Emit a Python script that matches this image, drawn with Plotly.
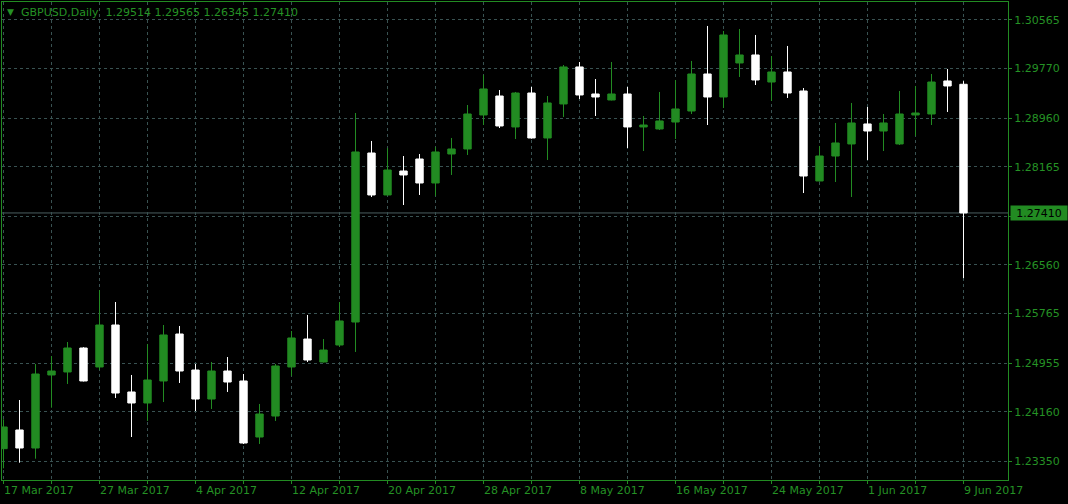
import plotly.graph_objects as go

# ---------------- data ----------------
dates = ["2017-03-17", "2017-03-20", "2017-03-21", "2017-03-22", "2017-03-23", "2017-03-24",
         "2017-03-27", "2017-03-28", "2017-03-29", "2017-03-30", "2017-03-31",
         "2017-04-03", "2017-04-04", "2017-04-05", "2017-04-06", "2017-04-07",
         "2017-04-10", "2017-04-11", "2017-04-12", "2017-04-13", "2017-04-14",
         "2017-04-17", "2017-04-18", "2017-04-19", "2017-04-20", "2017-04-21",
         "2017-04-24", "2017-04-25", "2017-04-26", "2017-04-27", "2017-04-28",
         "2017-05-01", "2017-05-02", "2017-05-03", "2017-05-04", "2017-05-05",
         "2017-05-08", "2017-05-09", "2017-05-10", "2017-05-11", "2017-05-12",
         "2017-05-15", "2017-05-16", "2017-05-17", "2017-05-18", "2017-05-19",
         "2017-05-22", "2017-05-23", "2017-05-24", "2017-05-25", "2017-05-26",
         "2017-05-29", "2017-05-30", "2017-05-31", "2017-06-01", "2017-06-02",
         "2017-06-05", "2017-06-06", "2017-06-07", "2017-06-08", "2017-06-09"]

opens = [1.23556, 1.23862, 1.23567, 1.24761, 1.24810, 1.25202, 1.24892, 1.25578, 1.24483, 1.24303,
         1.24663, 1.25431, 1.24842, 1.24368, 1.24826, 1.24663, 1.23747, 1.24090, 1.24892, 1.25349,
         1.24973, 1.25251, 1.25627, 1.28390, 1.27704, 1.28096, 1.28292, 1.27900, 1.28374, 1.28456,
         1.29012, 1.29322, 1.28816, 1.29371, 1.28636, 1.29192, 1.29797, 1.29355, 1.29257, 1.29355,
         1.28816, 1.28783, 1.28897, 1.29077, 1.29682, 1.29306, 1.29862, 1.29993, 1.29551, 1.29715,
         1.29404, 1.27933, 1.28341, 1.28538, 1.28865, 1.28750, 1.28538, 1.29012, 1.29028, 1.29568,
         1.29514]

highs = [1.24036, 1.24352, 1.24941, 1.25071, 1.25300, 1.25215, 1.26150, 1.25954, 1.24761, 1.25268,
         1.25578, 1.25562, 1.24941, 1.24973, 1.25055, 1.24777, 1.24287, 1.24941, 1.25480, 1.25742,
         1.25349, 1.25954, 1.29044, 1.28587, 1.28472, 1.28341, 1.28374, 1.28489, 1.28636, 1.29175,
         1.29666, 1.29420, 1.29388, 1.29470, 1.29322, 1.29829, 1.29878, 1.29600, 1.29878, 1.29470,
         1.28995, 1.29388, 1.29584, 1.29895, 1.30467, 1.30385, 1.30418, 1.30320, 1.29976, 1.30140,
         1.29453, 1.28505, 1.28881, 1.29208, 1.29143, 1.29028, 1.29404, 1.29486, 1.29682, 1.29764,
         1.29565]

lows = [1.23235, 1.23327, 1.23392, 1.24226, 1.24614, 1.24655, 1.24842, 1.24385, 1.23747, 1.24009,
        1.24319, 1.24630, 1.24172, 1.24205, 1.24483, 1.23633, 1.23633, 1.24009, 1.24744, 1.24973,
        1.24965, 1.25219, 1.25137, 1.27671, 1.27695, 1.27540, 1.27704, 1.27687, 1.28031, 1.28358,
        1.28848, 1.28799, 1.28619, 1.28625, 1.28276, 1.28979, 1.29273, 1.28995, 1.29250, 1.28472,
        1.28423, 1.28766, 1.28619, 1.29028, 1.28848, 1.29126, 1.29633, 1.29502, 1.29241, 1.29290,
        1.27736, 1.27925, 1.27916, 1.27671, 1.28276, 1.28423, 1.28521, 1.28668, 1.28848, 1.29061,
        1.26345]

closes = [1.23911, 1.23567, 1.24777, 1.24826, 1.25202, 1.24663, 1.25578, 1.24466, 1.24303, 1.24679,
          1.25415, 1.24826, 1.24368, 1.24826, 1.24646, 1.23649, 1.24123, 1.24908, 1.25366, 1.25006,
          1.25169, 1.25644, 1.28407, 1.27704, 1.28112, 1.28031, 1.27900, 1.28407, 1.28456, 1.29028,
          1.29437, 1.28832, 1.29371, 1.28636, 1.29208, 1.29797, 1.29339, 1.29306, 1.29355, 1.28816,
          1.28848, 1.28914, 1.29110, 1.29682, 1.29306, 1.30320, 1.29993, 1.29584, 1.29715, 1.29371,
          1.28014, 1.28341, 1.28554, 1.28881, 1.28750, 1.28881, 1.29028, 1.29044, 1.29551, 1.29486,
          1.27410]

label_dates = ["2017-03-17", "2017-03-27", "2017-04-04", "2017-04-12", "2017-04-20", "2017-04-28",
               "2017-05-08", "2017-05-16", "2017-05-24", "2017-06-01", "2017-06-09"]
label_texts = ["17 Mar 2017", "27 Mar 2017", "4 Apr 2017", "12 Apr 2017", "20 Apr 2017", "28 Apr 2017",
               "8 May 2017", "16 May 2017", "24 May 2017", "1 Jun 2017", "9 Jun 2017"]
grid_dates = ["2017-03-17", "2017-03-22", "2017-03-27", "2017-03-30", "2017-04-04", "2017-04-07",
              "2017-04-12", "2017-04-17", "2017-04-20", "2017-04-25", "2017-04-28", "2017-05-03",
              "2017-05-08", "2017-05-11", "2017-05-16", "2017-05-19", "2017-05-24", "2017-05-29",
              "2017-06-01", "2017-06-06", "2017-06-09"]

price_ticks = [1.30565, 1.29770, 1.28960, 1.28165, 1.27360, 1.26560, 1.25765, 1.24955, 1.24160, 1.23350]
price_texts = ["1.30565", "1.29770", "1.28960", "1.28165", "", "1.26560", "1.25765", "1.24955", "1.24160", "1.23350"]

symbol = "GBPUSD,Daily"
last_price = 1.27410

# ---------------- styles ----------------
GREEN = "#228B22"
TEXT = "#259225"
GRID = "#395252"
FONT = "DejaVu Sans"

fig = go.Figure()
fig.add_trace(go.Candlestick(
    x=dates, open=opens, high=highs, low=lows, close=closes,
    increasing=dict(line=dict(color=GREEN, width=1), fillcolor=GREEN),
    decreasing=dict(line=dict(color="#ffffff", width=1), fillcolor="#ffffff"),
    whiskerwidth=0, showlegend=False, hoverinfo="skip",
))

fig.update_layout(
    width=1068, height=504,
    margin=dict(l=2, r=60, t=2, b=24),
    paper_bgcolor="#000000", plot_bgcolor="#000000",
    boxmode="overlay", boxgap=0.34,
    showlegend=False,
    font=dict(family=FONT, size=11, color=TEXT),
    xaxis=dict(
        type="category", categoryorder="array", categoryarray=dates,
        range=[-0.09375, 62.78125], rangeslider=dict(visible=False),
        tickmode="array", tickvals=grid_dates, ticktext=[""] * len(grid_dates),
        ticks="outside", ticklen=3, tickcolor=GREEN,
        showgrid=True, gridcolor=GRID, griddash="3px,3px", gridwidth=1,
        showline=True, linecolor=GREEN, linewidth=1, mirror=True,
        zeroline=False, fixedrange=True,
    ),
    yaxis=dict(
        side="right", range=[1.23044, 1.30859],
        tickmode="array", tickvals=price_ticks, ticktext=price_texts,
        ticks="outside", ticklen=3, tickcolor=GREEN,
        tickfont=dict(family=FONT, size=11, color=TEXT),
        showgrid=True, gridcolor=GRID, griddash="3px,3px", gridwidth=1,
        showline=True, linecolor=GREEN, linewidth=1, mirror=True,
        zeroline=False, fixedrange=True,
    ),
)

# current price line
fig.add_shape(type="line", xref="paper", x0=0, x1=1, yref="y", y0=last_price, y1=last_price,
              line=dict(color="#4a5e60", width=1), layer="below")

annotations = []
for d, t in zip(label_dates, label_texts):
    annotations.append(dict(x=d, xref="x", y=0, yref="paper", text=t, showarrow=False,
                            xanchor="left", yanchor="top", xshift=-2, yshift=-2,
                            font=dict(family=FONT, size=11, color=TEXT)))

# price label box
annotations.append(dict(x=1, xref="paper", y=last_price, yref="y", text=f"{last_price:.5f}",
                        showarrow=False, xanchor="left", yanchor="middle", xshift=2,
                        width=56, height=14, borderpad=0, bgcolor=GREEN, align="center",
                        font=dict(family=FONT, size=11, color="#000000")))

# title
annotations.append(dict(x=0, xref="paper", y=1, yref="paper", text="▼", showarrow=False,
                        xanchor="left", yanchor="top", xshift=3, yshift=-3,
                        font=dict(family=FONT, size=9, color=TEXT)))
title_text = symbol + "&nbsp;&nbsp;" + " ".join(f"{v:.5f}" for v in
                                                  [opens[-1], highs[-1], lows[-1], closes[-1]])
annotations.append(dict(x=0, xref="paper", y=1, yref="paper", text=title_text, showarrow=False,
                        xanchor="left", yanchor="top", xshift=17, yshift=-2,
                        font=dict(family=FONT, size=11, color=TEXT)))

fig.update_layout(annotations=annotations)

fig.write_html("out.html", config=dict(displayModeBar=False),
               post_script="document.body.style.margin='0';document.body.style.padding='0';")
